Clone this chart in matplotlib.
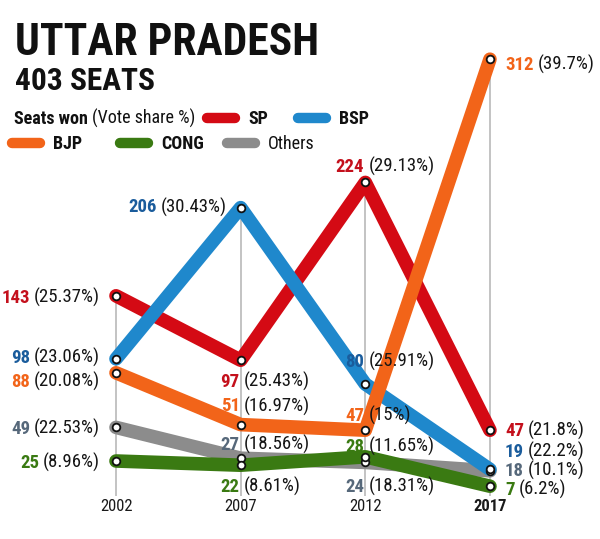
import matplotlib
matplotlib.use('Agg')
import matplotlib.pyplot as plt
from matplotlib import font_manager as fm
from matplotlib import transforms as mt
from matplotlib.lines import Line2D

# ---------------- data ----------------
years = [2002, 2007, 2012, 2017]
year_labels = ['2002', '2007', '2012', '2017']

sp_seats = [143, 97, 224, 47]
sp_share = [25.37, 25.43, 29.13, 21.8]
bsp_seats = [98, 206, 80, 19]
bsp_share = [23.06, 30.43, 25.91, 22.2]
bjp_seats = [88, 51, 47, 312]
bjp_share = [20.08, 16.97, 15, 39.7]
cong_seats = [25, 22, 28, 7]
cong_share = [8.96, 8.61, 11.65, 6.2]
oth_seats = [49, 27, 24, 18]
oth_share = [22.53, 18.56, 18.31, 10.1]

title = 'UTTAR PRADESH'
subtitle = '403 SEATS'

# ---------------- fonts ----------------
names = {f.name for f in fm.fontManager.ttflist}
FONT = next((n for n in ['Roboto Condensed', 'Liberation Sans Narrow',
                         'Open Sans Condensed', 'Roboto', 'Liberation Sans']
             if n in names), 'DejaVu Sans')
plt.rcParams['font.family'] = [FONT, 'DejaVu Sans']

W, H = 600, 539
fig = plt.figure(figsize=(W / 100, H / 100), dpi=100)
fig.patch.set_facecolor('white')
ax = fig.add_axes([0, 0, 1, 1])
ax.set_xlim(1997.347, 2021.414)
ax.set_ylim(-30.71, 354.29)
ax.axis('off')

ID = mt.IdentityTransform()
renderer = fig.canvas.get_renderer()


def width(t):
    return t.get_window_extent(renderer).width


# party styles: line colour, number colour, zorder
series = [
    ('Others', oth_seats, oth_share, '#8c8c8c', '#56687a', 2),
    ('CONG', cong_seats, cong_share, '#3a7a12', '#3a7a12', 3),
    ('SP', sp_seats, sp_share, '#d40a14', '#c4101c', 4),
    ('BSP', bsp_seats, bsp_share, '#1f88cc', '#1a5c9c', 5),
    ('BJP', bjp_seats, bjp_share, '#f26419', '#f26419', 6),
]

# vertical guide lines from the base up to the top point of each year
all_seats = [oth_seats, cong_seats, sp_seats, bsp_seats, bjp_seats]
for i, yr in enumerate(years):
    top = max(s[i] for s in all_seats)
    ax.vlines(yr, 0, top, color='#b3b3b3', lw=1.1, zorder=1)

for name, seats, share, lc, nc, z in series:
    ax.plot(years, seats, color=lc, lw=9.8, solid_capstyle='round',
            solid_joinstyle='round', zorder=z)
    ax.plot(years, seats, 'o', ms=5.5, mfc='white', mec='#111111',
            mew=1.3, zorder=20)

# ---------------- value labels ----------------
# (mode, dx px, dy px) per party and year; modes: L = left of point,
# S = split at guide line, R = right of point
label_pos = {
    'SP':     [('L', -16, 0), ('S', 0, 20), ('S', 0, -17), ('R', 15, -1)],
    'BSP':    [('L', -16, -3), ('L', -14, -2), ('S', 0, -24), ('R', 15, -19)],
    'BJP':    [('L', -16, 7), ('S', 0, -20), ('S', 0, -16), ('R', 15, 4)],
    'CONG':   [('L', -16, 0), ('S', 0, 20), ('S', 0, -12), ('R', 15, 2)],
    'Others': [('L', -16, 0), ('S', 0, -15), ('S', 0, 23), ('R', 15, -2)],
}
LFS = 13.5
CAP = 6.8
for name, seats, share, lc, nc, z in series:
    for i, yr in enumerate(years):
        mode, dx, dy = label_pos[name][i]
        x0, y0 = ax.transData.transform((yr, seats[i]))
        yb = y0 - dy - CAP
        xp = x0 + dx
        tn = fig.text(0, 0, str(seats[i]), color=nc, fontsize=LFS,
                      fontweight='bold', transform=ID, va='baseline',
                      ha='left', zorder=30)
        tp = fig.text(0, 0, '(%g%%)' % share[i], color='#151515',
                      fontsize=LFS, transform=ID, va='baseline', ha='left',
                      zorder=30)
        wn, wp = width(tn), width(tp)
        gap = 4
        if mode == 'R':
            xn, xq = xp, xp + wn + gap
        elif mode == 'L':
            xq = xp - wp
            xn = xq - gap - wn
        else:
            xn, xq = xp - 1 - wn, xp + 3
        tn.set_position((xn, yb))
        tp.set_position((xq, yb))

# year labels
for i, yr in enumerate(years):
    x0, _ = ax.transData.transform((yr, 0))
    fig.text(x0, H - 511, year_labels[i], transform=ID, ha='center',
             va='baseline', fontsize=12, color='#1a1a1a',
             fontweight='bold' if i == len(years) - 1 else 'normal')

# ---------------- title ----------------
t1 = fig.text(15, H - 55, title, transform=ID, fontsize=30,
              fontweight='bold', color='#111111', va='baseline')
t1.set_fontsize(30 * 303 / width(t1))
t2 = fig.text(15, H - 90, subtitle, transform=ID, fontsize=20,
              fontweight='bold', color='#111111', va='baseline')
t2.set_fontsize(20 * 140 / width(t2))

# ---------------- legend ----------------
LEG = 13
a = fig.text(14, H - 124, 'Seats won', transform=ID, fontsize=LEG,
             fontweight='bold', color='#111111', va='baseline')
b = fig.text(14 + width(a) + 4, H - 124, '(Vote share %)', transform=ID,
             fontsize=LEG, color='#111111', va='baseline')

legend_items = [
    ('SP', '#d40a14', 202, 118, 'bold'),
    ('BSP', '#1f88cc', 293, 118, 'bold'),
    ('BJP', '#f26419', 7, 143, 'bold'),
    ('CONG', '#3a7a12', 115, 143, 'bold'),
    ('Others', '#8c8c8c', 222, 143, 'normal'),
]
for lab, col, xs, yc, wt in legend_items:
    fig.add_artist(Line2D([xs + 5, xs + 33], [H - yc, H - yc], transform=ID,
                          color=col, lw=7.5, solid_capstyle='round'))
    fig.text(xs + 46, H - yc - 6, lab, transform=ID, fontsize=LEG,
             fontweight=wt, color='#111111', va='baseline')

fig.savefig('out.png', dpi=100)
